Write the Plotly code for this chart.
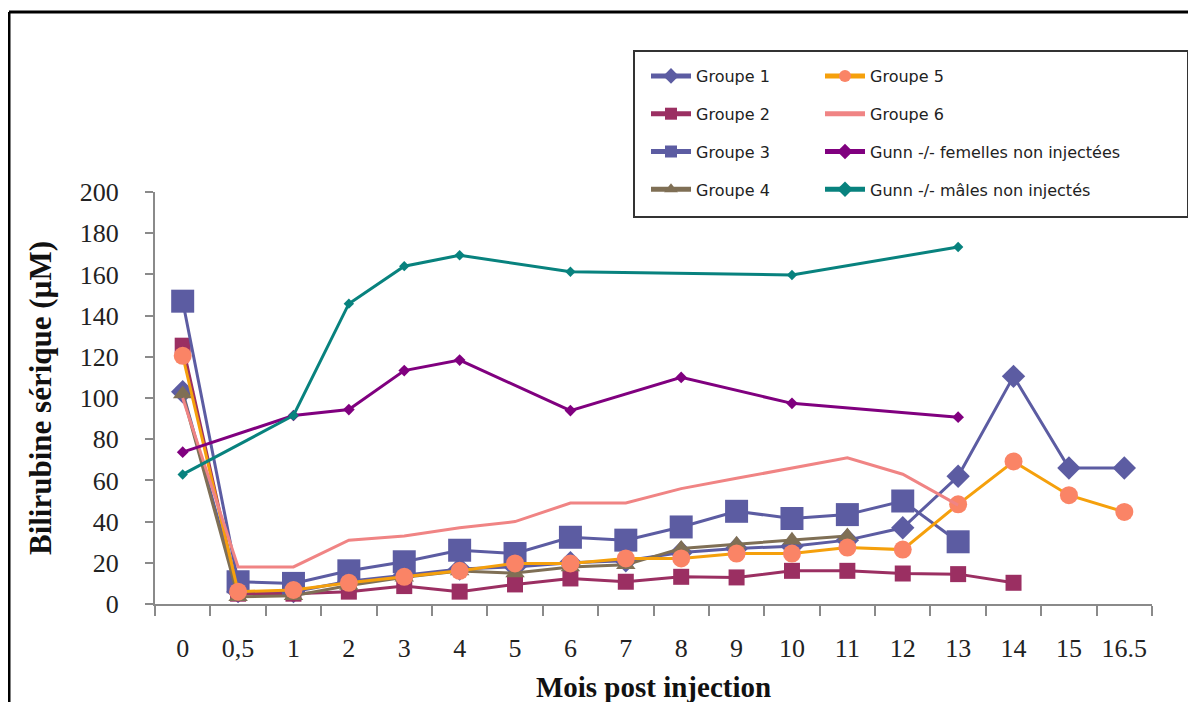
import plotly.graph_objects as go

categories = ["0", "0,5", "1", "2", "3", "4", "5", "6", "7", "8", "9", "10",
              "11", "12", "13", "14", "15", "16.5"]

groupe1 = [103, 6, 6, 11, 14, 17, 18, 20, 21, 25, 27, 28, 31, 37, 62, 110.5, 66, 66]
groupe2 = [125.4, 5, 5, 6, 8.7, 6, 9.5, 12.4, 10.8, 13.2, 12.9, 16.1, 16.1, 14.8, 14.5, 10.3, None, None]
groupe3 = [147, 10.8, 10, 16.1, 20.5, 26.1, 24.5, 32.4, 31, 37.4, 45, 41.5, 43.4, 50, 30.2, None, None, None]
groupe4 = [102, 3.5, 4, 9, 13, 16, 15, 18, 19, 27, 29, 31, 33, None, None, None, None, None]
groupe5 = [120.5, 6, 6.8, 10.3, 13.2, 16.1, 19.7, 19.7, 22.1, 22.1, 24.5, 24.5, 27.4, 26.4, 48.4, 69.2, 52.8, 44.7]
groupe6 = [100, 18, 18, 31, 33, 37, 40, 49, 49, 56, 61, 66, 71, 63, 48, None, None, None]
gunn_f = [73.7, None, 91.5, 94.4, 113.3, 118.4, None, 93.9, None, 110, None, 97.4, None, None, 90.7, None, None, None]
gunn_m = [62.9, None, 91.5, 145.8, 164, 169.3, None, 161.3, None, None, None, 159.7, None, None, 173.3, None, None, None]

series = [
    ("Groupe 1", groupe1, "#5C5CA2", "diamond", 18, 3, "legend"),
    ("Groupe 2", groupe2, "#9B2F62", "square", 16, 3, "legend"),
    ("Groupe 3", groupe3, "#5C5CA2", "square", 23, 3, "legend"),
    ("Groupe 4", groupe4, "#7F6F55", "triangle-up", 17, 3, "legend"),
    ("Groupe 5", groupe5, "#F5A00C", "circle", 18, 3, "legend2"),
    ("Groupe 6", groupe6, "#F08484", None, 0, 3, "legend2"),
    ("Gunn -/- femelles non injectées", gunn_f, "#80007F", "diamond", 9, 3, "legend2"),
    ("Gunn -/- mâles non injectés", gunn_m, "#08827E", "diamond", 8, 3, "legend2"),
]

fig = go.Figure()
for i, (name, vals, color, sym, msize, lw, leg) in enumerate(series):
    if sym is None:
        mode = "lines"
        marker = None
    else:
        mode = "lines+markers"
        mcolor = "#FA8466" if name == "Groupe 5" else color
        marker = dict(symbol=sym, size=msize, color=mcolor, line=dict(width=0))
    fig.add_trace(go.Scatter(
        x=categories, y=vals, name=name, mode=mode,
        line=dict(color=color, width=lw),
        marker=marker, connectgaps=True,
        legend=leg, legendgroup=name,
    ))

# geometry (page has an 8px body margin, so figure coords = screen - 8)
OFF = 8
W, H = 1196, 702
L = 155 - OFF
T = 192 - OFF
plot_right = 1152 - OFF
plot_bottom = 604 - OFF
R = W - plot_right
B = H - plot_bottom
pw, ph = W - L - R, H - T - B

def px(xs):
    return (xs - OFF - L) / pw

def py(ys):
    return (H - B - (ys - OFF)) / ph

legend_font = dict(family="DejaVu Sans", size=16, color="#222")

fig.update_layout(
    width=W, height=H,
    margin=dict(l=L, r=R, t=T, b=B, autoexpand=False),
    paper_bgcolor="white", plot_bgcolor="white",
    showlegend=True,
    legend=dict(x=px(646), y=py(59), xanchor="left", yanchor="top",
                bgcolor="rgba(0,0,0,0)", font=legend_font, itemsizing="constant",
                traceorder="grouped", tracegroupgap=14, itemwidth=40),
    legend2=dict(x=px(820), y=py(59), xanchor="left", yanchor="top",
                 bgcolor="rgba(0,0,0,0)", font=legend_font, itemsizing="constant",
                 traceorder="grouped", tracegroupgap=14, itemwidth=40),
    xaxis=dict(type="category", categoryorder="array", categoryarray=categories,
               range=[-0.5, len(categories) - 0.5],
               showline=True, linecolor="#8a8a8a", linewidth=2,
               ticks="outside", ticklen=10, tickcolor="#8a8a8a", tickwidth=1.5,
               tickson="boundaries", showgrid=False, zeroline=False,
               tickfont=dict(family="Liberation Serif", size=26, color="#222"),
               ticklabelstandoff=20,
               title=dict(text="<b>Mois post injection</b>", standoff=14,
                          font=dict(family="Liberation Serif", size=29, color="#111"))),
    yaxis=dict(range=[0, 200], dtick=20, showline=True, linecolor="#8a8a8a", linewidth=2,
               ticks="outside", ticklen=8, tickcolor="#8a8a8a", tickwidth=1.5,
               showgrid=False, zeroline=False,
               tickfont=dict(family="Liberation Serif", size=26, color="#222"),
               ticklabelstandoff=21,
               title=dict(text="<b>Bilirubine sérique (µM)</b>", standoff=19,
                          font=dict(family="Liberation Serif", size=31, color="#111"))),
    shapes=[
        dict(type="line", xref="paper", yref="paper", x0=px(9), x1=px(1215),
             y0=py(12), y1=py(12), line=dict(color="black", width=3), layer="above"),
        dict(type="line", xref="paper", yref="paper", x0=px(9), x1=px(9),
             y0=py(12), y1=py(720), line=dict(color="black", width=3), layer="above"),
        dict(type="rect", xref="paper", yref="paper", x0=px(634), x1=px(1188),
             y0=py(217), y1=py(51), line=dict(color="#333", width=2),
             fillcolor="white", layer="below"),
    ],
)

fig.write_html("out.html")
